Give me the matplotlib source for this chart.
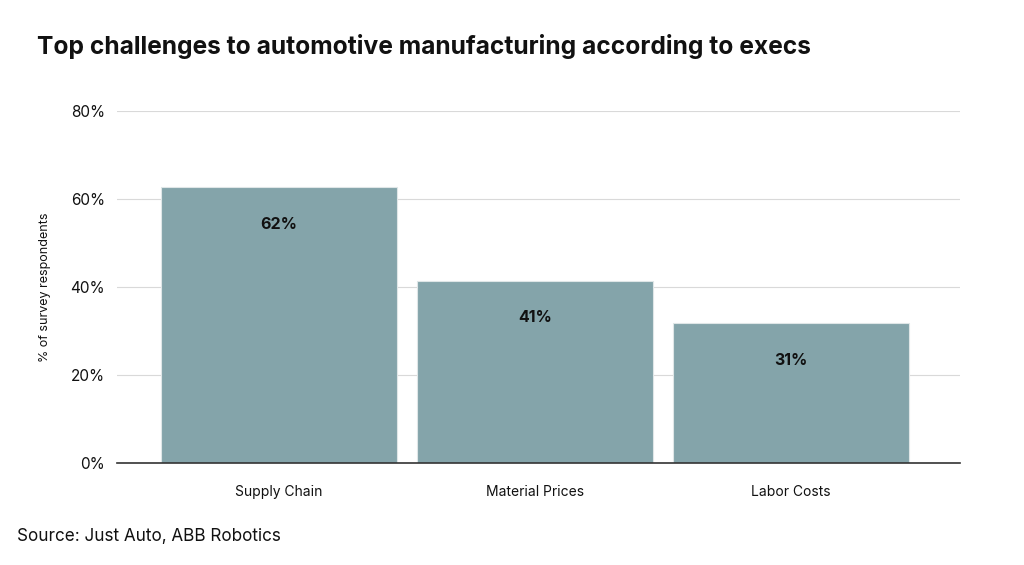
import matplotlib.pyplot as plt
from matplotlib.ticker import FuncFormatter

plt.rcParams['font.family'] = ['Inter', 'DejaVu Sans']

# 数据
categories = ['Supply Chain', 'Material Prices', 'Labor Costs']
values = [62.7, 41.4, 31.8]
value_labels = ['62%', '41%', '31%']
y_ticks = [0, 20, 40, 60, 80]

bar_color = '#84a4aa'

fig = plt.figure(figsize=(10.24, 5.65), dpi=100)
ax = fig.add_axes([0.1143, 0.1805, 0.8232, 0.623])

x = range(len(categories))
bars = ax.bar(x, values, width=0.92, color=bar_color, edgecolor='#dfe6e7',
              linewidth=0.8, zorder=2)

# 柱内数值标签
for b, lab in zip(bars, value_labels):
    ax.annotate(lab, (b.get_x() + b.get_width() / 2, b.get_height()),
                xytext=(0, -37), textcoords='offset pixels',
                ha='center', va='center', fontsize=11.5, fontweight='bold',
                color='#111111', zorder=3)

ax.set_xlim(-0.633, 2.66)
ax.set_ylim(0, 80)
ax.set_yticks(y_ticks)
ax.yaxis.set_major_formatter(FuncFormatter(lambda v, p: f'{v:.0f}%'))
ax.set_xticks(list(x))
ax.set_xticklabels(categories, fontsize=10, color='#111111')
ax.tick_params(axis='y', length=0, pad=8.5, labelsize=11, labelcolor='#111111')
ax.tick_params(axis='x', length=0, pad=16)

ax.grid(axis='y', color='#d9d9d9', linewidth=0.8, zorder=0)
ax.set_axisbelow(True)
for s in ['top', 'right', 'left']:
    ax.spines[s].set_visible(False)
ax.spines['bottom'].set_color('#333333')
ax.spines['bottom'].set_linewidth(1.2)
ax.spines['bottom'].set_zorder(4)

ax.set_ylabel('% of survey respondents', fontsize=9, color='#111111', labelpad=14)

fig.text(0.036, 0.917, 'Top challenges to automotive manufacturing according to execs',
         fontsize=17.7, fontweight='bold', color='#111111', va='center', ha='left')
fig.text(0.017, 0.051, 'Source: Just Auto, ABB Robotics', fontsize=12.3,
         color='#111111', va='center', ha='left')

fig.savefig('out.png', dpi=100)
plt.close(fig)
